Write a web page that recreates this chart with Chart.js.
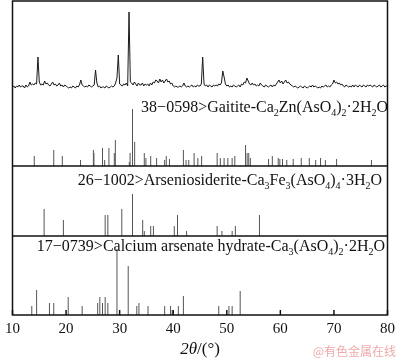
<!DOCTYPE html>
<html>
<head>
<meta charset="utf-8">
<script src="https://cdn.jsdelivr.net/npm/chart.js@4"></script>
<style>
  html, body { margin: 0; padding: 0; background: #fff; }
  #wrap { width: 400px; height: 359px; }
</style>
</head>
<body>
<div id="wrap"><canvas id="xrd" width="400" height="359"></canvas></div>
<script>
// measured sample pattern: 2theta from 10 to 80, step 0.25 deg (arbitrary counts)
const scanStart = 10;
const scanStep = 0.25;
const sampleCounts = [
  4, 5, 3, 5,   4, 6, 4, 5,   5, 3, 6, 4,   5, 9, 6, 7,   6, 8, 7, 34,     // 10-14
  9, 6, 7, 6,   10, 7, 8, 6,  5, 7, 9, 6,   7, 5, 6, 8,   5, 6, 4, 6,      // 15-19
  5, 4, 3, 4,   3, 5, 4, 3,   5, 4, 6, 11,  6, 5, 4, 5,   4, 6, 5, 4,      // 20-24
  5, 6, 21, 8,  4, 5, 3, 4,   4, 3, 5, 4,   3, 4, 5, 4,   5, 8, 13, 36,    // 25-29
  7, 6, 5, 7,   6, 8, 5, 79,  9, 8, 6, 9,   7, 5, 8, 6,   6, 8, 5, 7,      // 30-34
  6, 7, 5, 8,   6, 9, 8, 11,  10, 8, 12, 9, 11, 8, 10, 12, 9, 10, 7, 8,    // 35-39
  5, 4, 5, 4,   4, 5, 4, 5,   8, 5, 4, 5,   4, 5, 6, 4,   5, 4, 6, 5,      // 40-44
  5, 7, 34, 7,  5, 6, 4, 6,   5, 4, 6, 5,   6, 5, 7, 6,   8, 20, 14, 7,    // 45-49
  5, 6, 4, 5,   4, 6, 5, 4,   5, 6, 4, 7,   6, 9, 8, 13,  10, 7, 6, 8,     // 50-54
  6, 7, 5, 6,   5, 8, 6, 5,   4, 6, 5, 4,   5, 6, 4, 6,   5, 7, 9, 11,     // 55-59
  8, 10, 7, 9,  11, 8, 9, 7,  6, 5, 4, 5,   4, 3, 4, 5,   4, 3, 5, 4,      // 60-64
  3, 4, 5, 4,   6, 4, 5, 4,   3, 4, 3, 5,   4, 5, 6, 4,   5, 4, 6, 7,      // 65-69
  11, 8, 9, 7,  8, 6, 7, 5,   4, 6, 5, 4,   5, 4, 6, 4,   6, 5, 4, 6,      // 70-74
  5, 4, 6, 5,   4, 6, 5, 6,   5, 4, 6, 5,   4, 5, 6, 4,   5, 6, 4, 5,      // 75-79
  5                                                                        // 80
];

// reference cards (stick patterns)
const gaititePos = [14.06, 17.7, 19.3, 22.7, 25.1, 25.2, 26.8, 27.2, 28.0, 29.0, 29.2, 31.8, 31.95,
  32.4, 32.8, 34.6, 34.9, 35.8, 36.9, 38.4, 38.7, 39.3, 41.9, 42.4, 42.9, 43.9, 44.6, 45.3, 48.2,
  48.8, 49.5, 50.2, 51.0, 51.5, 53.5, 53.8, 54.1, 54.4, 57.8, 58.5, 59.6, 59.9, 60.4, 61.2, 62.4,
  63.9, 65.4, 66.6, 67.5, 68.4, 70.5, 77.0];
const gaititeInt = [10, 16, 10, 6, 16, 13, 18, 6, 18, 13, 26, 4, 13,
  57, 24, 13, 8, 10, 8, 6, 10, 7, 16, 6, 6, 13, 8, 10, 13,
  8, 8, 8, 8, 10, 21, 13, 13, 8, 7, 10, 8, 7, 7, 6, 7,
  8, 8, 6, 8, 6, 7, 6];

const arsenPos = [15.9, 19.5, 27.3, 27.8, 30.4, 32.4, 34.3, 34.6, 35.8, 36.3, 40.2, 40.8, 42.5,
  48.2, 49.1, 51.0, 51.6, 56.1];
const arsenInt = [27, 16, 21, 21, 27, 42, 16, 5, 10, 10, 10, 21, 5, 10, 5, 5, 10, 21];

const calciumPos = [13.6, 14.5, 16.9, 17.7, 20.4, 23.0, 25.9, 26.3, 26.8, 27.3, 27.8, 29.5, 31.6,
  33.2, 33.6, 35.3, 38.4, 39.5, 39.8, 40.96, 41.9, 48.5, 50.4, 51.0, 52.5];
const calciumInt = [9, 25, 12, 12, 18, 9, 12, 18, 12, 18, 12, 66, 49, 9, 12, 9, 9, 9, 5, 9, 19, 9, 9, 9, 24];

const xTicks = [10, 20, 30, 40, 50, 60, 70, 80];

// vertical offsets of each panel (stacked plot)
const base = { calcium: 0, arsen: 79, gaitite: 149, sample: 224 };
const serif = '"Liberation Serif", "Times New Roman", serif';

function sticks(pos, ints, b) {
  const pts = [];
  pos.forEach((p, i) => {
    pts.push({ x: p, y: b }, { x: p, y: b + ints[i] }, { x: p, y: null });
  });
  return pts;
}

const samplePts = sampleCounts.map((c, i) => ({ x: scanStart + i * scanStep, y: base.sample + c }));

function drawRich(ctx, parts, xRight, yBase, size) {
  const sub = Math.round(size * 0.65);
  let w = 0;
  parts.forEach(([t, s]) => {
    ctx.font = (s ? sub : size) + "px " + serif;
    w += ctx.measureText(t).width;
  });
  let x = xRight - w;
  parts.forEach(([t, s]) => {
    ctx.font = (s ? sub : size) + "px " + serif;
    ctx.fillText(t, x, s ? yBase + 4 : yBase);
    x += ctx.measureText(t).width;
  });
}

const labelGaitite = [["38\u22120598>Gaitite-Ca", 0], ["2", 1], ["Zn(AsO", 0], ["4", 1], [")", 0], ["2", 1], ["\u00b72H", 0], ["2", 1], ["O", 0]];
const labelArsen = [["26\u22121002>Arseniosiderite-Ca", 0], ["3", 1], ["Fe", 0], ["3", 1], ["(AsO", 0], ["4", 1], [")", 0], ["4", 1], ["\u00b73H", 0], ["2", 1], ["O", 0]];
const labelCalcium = [["17\u22120739>Calcium arsenate hydrate-Ca", 0], ["3", 1], ["(AsO", 0], ["4", 1], [")", 0], ["2", 1], ["\u00b72H", 0], ["2", 1], ["O", 0]];

const deco = {
  id: "deco",
  afterDatasetsDraw(chart) {
    const { ctx, chartArea: a, scales: { x, y } } = chart;
    ctx.save();
    ctx.strokeStyle = "#111";
    ctx.lineWidth = 1.5;
    ctx.strokeRect(a.left, a.top, a.right - a.left, a.bottom - a.top);
    [base.arsen, base.gaitite].forEach(v => {
      const py = y.getPixelForValue(v);
      ctx.beginPath();
      ctx.moveTo(a.left, py);
      ctx.lineTo(a.right, py);
      ctx.stroke();
    });
    // inward ticks on the bottom axis
    xTicks.forEach(t => {
      const px = x.getPixelForValue(t);
      ctx.beginPath();
      ctx.moveTo(px, a.bottom);
      ctx.lineTo(px, a.bottom - 5);
      ctx.stroke();
    });

    ctx.fillStyle = "#111";
    ctx.textBaseline = "alphabetic";
    drawRich(ctx, labelGaitite, 388, 112, 16);
    drawRich(ctx, labelArsen, 382, 185, 16);
    drawRich(ctx, labelCalcium, 385, 251, 16);

    // axis title 2θ/(°)
    ctx.font = "italic 17px " + serif;
    const w1 = ctx.measureText("2\u03b8").width;
    ctx.font = "17px " + serif;
    const w2 = ctx.measureText("/(\u00b0)").width;
    const cx = (a.left + a.right) / 2;
    let tx = cx - (w1 + w2) / 2;
    ctx.font = "italic 17px " + serif;
    ctx.fillText("2\u03b8", tx, 354);
    ctx.font = "17px " + serif;
    ctx.fillText("/(\u00b0)", tx + w1, 354);

    // watermark
    ctx.fillStyle = "rgba(232, 140, 140, 0.75)";
    ctx.font = '12px "Noto Sans CJK SC", sans-serif';
    ctx.textAlign = "right";
    ctx.fillText("@有色金属在线", 396, 356);
    ctx.restore();
  }
};

new Chart(document.getElementById("xrd"), {
  type: "line",
  data: {
    datasets: [
      { data: samplePts, borderColor: "#1a1a1a", borderWidth: 1, pointRadius: 0, tension: 0 },
      { data: sticks(gaititePos, gaititeInt, base.gaitite), borderColor: "#555", borderWidth: 1, pointRadius: 0 },
      { data: sticks(arsenPos, arsenInt, base.arsen), borderColor: "#555", borderWidth: 1, pointRadius: 0 },
      { data: sticks(calciumPos, calciumInt, base.calcium), borderColor: "#555", borderWidth: 1, pointRadius: 0 }
    ]
  },
  options: {
    responsive: false,
    animation: false,
    events: [],
    layout: { padding: { left: 7, right: 8, top: 1, bottom: 0 } },
    plugins: { legend: { display: false }, tooltip: { enabled: false } },
    scales: {
      x: {
        type: "linear", min: 10, max: 80, offset: false,
        afterBuildTicks: s => { s.ticks = xTicks.map(v => ({ value: v })); },
        ticks: { color: "#111", font: { family: serif, size: 15 }, padding: 5, maxRotation: 0, autoSkip: false },
        grid: { display: false, drawTicks: false },
        border: { display: false },
        afterFit: s => { s.height = 44; }
      },
      y: { display: false, min: 0, max: 314 }
    }
  },
  plugins: [deco]
});
</script>
</body>
</html>
